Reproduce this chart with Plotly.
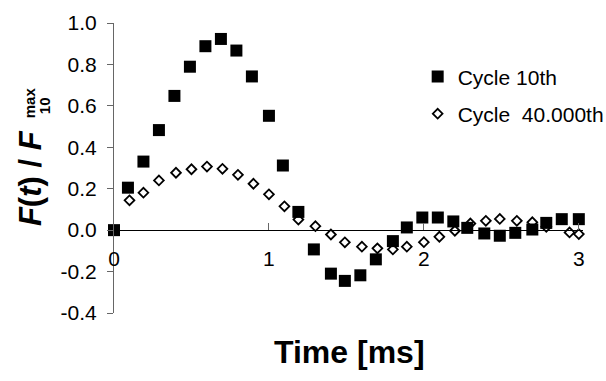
import plotly.graph_objects as go

# ---- data ----
t_cycle10 = [0.0, 0.09, 0.19, 0.29, 0.39, 0.49, 0.59, 0.69, 0.79, 0.89, 1.0,
             1.09, 1.19, 1.29, 1.40, 1.49, 1.59, 1.69, 1.80, 1.89, 1.99, 2.09,
             2.19, 2.28, 2.39, 2.49, 2.59, 2.70, 2.79, 2.89, 3.0]
f_cycle10 = [0.0, 0.205, 0.331, 0.483, 0.648, 0.789, 0.888, 0.923, 0.867, 0.742, 0.552,
             0.312, 0.088, -0.093, -0.21, -0.245, -0.218, -0.141, -0.053, 0.013, 0.061, 0.061,
             0.042, 0.011, -0.016, -0.027, -0.013, 0.003, 0.035, 0.053, 0.053]

t_cycle40k = [0.10, 0.19, 0.29, 0.40, 0.50, 0.60, 0.70, 0.80, 0.90, 1.0,
              1.10, 1.19, 1.30, 1.40, 1.49, 1.60, 1.70, 1.80, 1.89, 2.0,
              2.10, 2.20, 2.30, 2.40, 2.49, 2.60, 2.70, 2.79, 2.94, 3.0]
f_cycle40k = [0.144, 0.181, 0.24, 0.277, 0.294, 0.307, 0.296, 0.267, 0.224, 0.173,
              0.115, 0.051, 0.019, -0.021, -0.059, -0.08, -0.088, -0.093, -0.08, -0.058,
              -0.032, -0.003, 0.032, 0.045, 0.054, 0.045, 0.038, 0.016, -0.011, -0.019]

series_names = ["Cycle 10th", "Cycle  40.000th"]
x_ticks = [0, 1, 2, 3]
x_ticktext = ["0", "1", "2", "3"]
y_ticks = [-0.4, -0.2, 0.0, 0.2, 0.4, 0.6, 0.8, 1.0]
y_ticktext = ["-0.4", "-0.2", "0.0", "0.2", "0.4", "0.6", "0.8", "1.0"]

FONT = "Liberation Sans, Arial, sans-serif"

fig = go.Figure()
fig.add_trace(go.Scatter(
    x=t_cycle40k, y=f_cycle40k, mode="markers", name=series_names[1],
    legendgroup="b", legendrank=2, cliponaxis=False,
    marker=dict(symbol="diamond", size=7.5, color="white",
                line=dict(color="black", width=1.8)),
))
fig.add_trace(go.Scatter(
    x=t_cycle10, y=f_cycle10, mode="markers", name=series_names[0],
    legendgroup="a", legendrank=1, cliponaxis=False,
    marker=dict(symbol="square", size=12, color="black",
                line=dict(color="black", width=0)),
))

L, R, T, B = 114, 22.5, 22.7, 67.7
W, H = 606, 381
pw, ph = W - L - R, H - T - B


def px_x(p):
    return (p - L) / pw


def px_y(p):
    return (H - B - p) / ph


fig.update_layout(
    width=W, height=H,
    margin=dict(l=L, r=R, t=T, b=B, pad=0, autoexpand=False),
    paper_bgcolor="white", plot_bgcolor="white",
    font=dict(family=FONT, size=21, color="black"),
    showlegend=True,
    legend=dict(x=px_x(418), y=px_y(56), xanchor="left", yanchor="top",
                bgcolor="rgba(0,0,0,0)", borderwidth=0,
                font=dict(family=FONT, size=21, color="black"),
                tracegroupgap=7),
    xaxis=dict(range=[0, 3.027], tickmode="array", tickvals=x_ticks, ticktext=x_ticktext,
               showgrid=False, zeroline=False, showline=True, linecolor="black",
               linewidth=1, ticks="inside", ticklen=7, tickcolor="#666",
               anchor="free", position=0.4 / 1.4, ticklabelstandoff=10,
               tickfont=dict(family=FONT, size=21, color="black")),
    yaxis=dict(range=[-0.4, 1.0], domain=[0, 1], tickmode="array", tickvals=y_ticks,
               ticktext=y_ticktext, showgrid=False, zeroline=False, showline=True,
               linecolor="#666", linewidth=1, ticks="outside", ticklen=6,
               tickcolor="#666", ticklabelstandoff=6,
               tickfont=dict(family=FONT, size=21, color="black")),
)

fig.add_annotation(text="<b>Time [ms]</b>", xref="paper", yref="paper",
                   x=px_x(350), y=px_y(352), xanchor="center", yanchor="middle",
                   showarrow=False, font=dict(family=FONT, size=32, color="black"))
fig.add_annotation(text="<b><i>F</i>(<i>t</i>) / <i>F</i></b>", xref="paper", yref="paper",
                   x=px_x(31), y=px_y(178), xanchor="center", yanchor="middle",
                   textangle=-90, showarrow=False,
                   font=dict(family=FONT, size=31, color="black"))
fig.add_annotation(text="<b>max</b>", xref="paper", yref="paper",
                   x=px_x(29), y=px_y(103), xanchor="center", yanchor="middle",
                   textangle=-90, showarrow=False,
                   font=dict(family=FONT, size=15, color="black"))
fig.add_annotation(text="<b>10</b>", xref="paper", yref="paper",
                   x=px_x(44), y=px_y(106), xanchor="center", yanchor="middle",
                   textangle=-90, showarrow=False,
                   font=dict(family=FONT, size=15, color="black"))

fig.write_html("out.html")
